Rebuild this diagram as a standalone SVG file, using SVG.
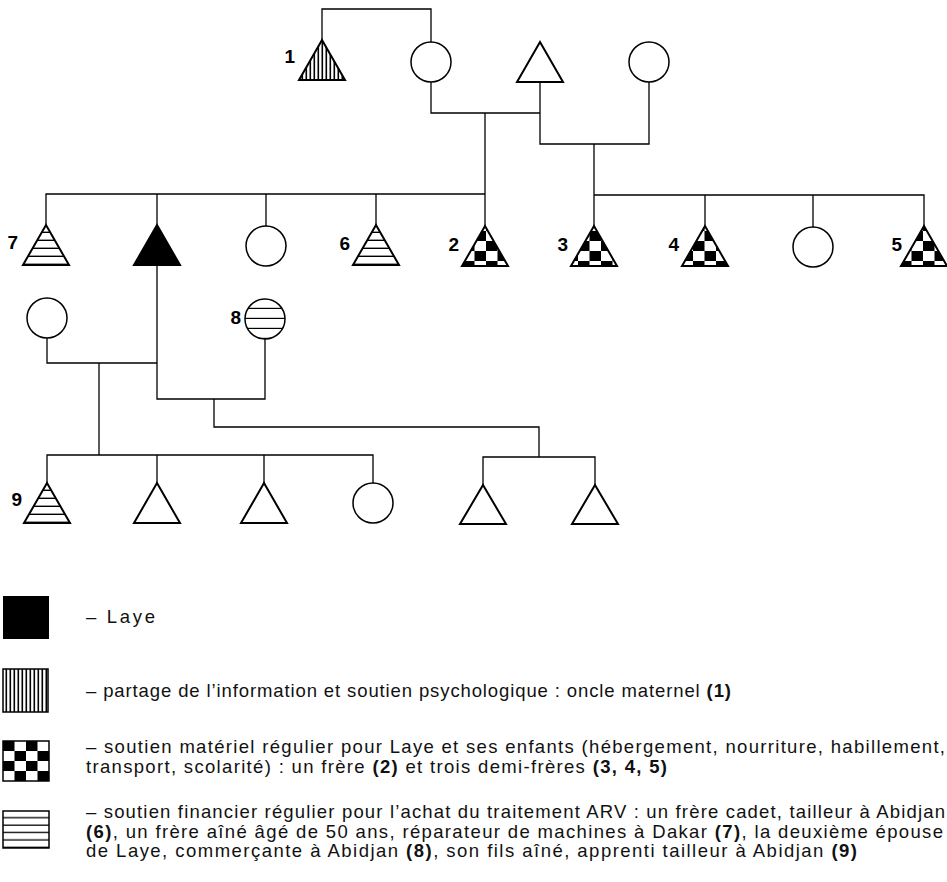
<svg xmlns="http://www.w3.org/2000/svg" width="947" height="882" viewBox="0 0 947 882">
<style>
.tri{stroke:#000;stroke-width:2;fill:#fff;stroke-linejoin:miter}
.cir{stroke:#000;stroke-width:1.5;fill:#fff}
.con{stroke:#000;stroke-width:1.3;fill:none}
.lab{font-family:"Liberation Sans",Arial,sans-serif;font-weight:bold;font-size:19px;text-anchor:end;fill:#000}
.leg{font-family:"Liberation Sans",Arial,sans-serif;font-size:18.5px;fill:#111}
.b{font-weight:bold}
.vs{fill:url(#vstripe)}
.hs{fill:url(#hstripe)}
.ck{fill:url(#checker)}
.full{fill:#000}
</style>
<defs>
<pattern id="vstripe" patternUnits="userSpaceOnUse" width="4" height="4">
<rect x="0" y="0" width="4" height="4" fill="#fff"/>
<rect x="1.5" y="0" width="1.6" height="4" fill="#000"/>
</pattern>
<pattern id="hstripe" patternUnits="objectBoundingBox" width="1" height="0.2" patternContentUnits="objectBoundingBox">
<rect x="0" y="0" width="1" height="0.2" fill="#fff"/>
<rect x="0" y="0.165" width="1" height="0.035" fill="#000"/>
</pattern>
<pattern id="hstripe4" patternUnits="objectBoundingBox" width="1" height="0.25" patternContentUnits="objectBoundingBox">
<rect x="0" y="0" width="1" height="0.25" fill="#fff"/>
<rect x="0" y="0.22" width="1" height="0.035" fill="#000"/>
</pattern>
<pattern id="checker" patternUnits="userSpaceOnUse" x="3" y="1" width="23" height="20">
<rect x="0" y="0" width="23" height="20" fill="#fff"/>
<rect x="0" y="0" width="11.5" height="10" fill="#000"/>
<rect x="11.5" y="10" width="11.5" height="10" fill="#000"/>
</pattern>
</defs>

<g id="connectors">
<path class="con" d="M322,40 V9 H431 V42"/>
<path class="con" d="M431,82 V113 H540"/>
<path class="con" d="M540,82 V144 H649 V82"/>
<path class="con" d="M485,113 V226"/>
<path class="con" d="M594,144 V226"/>
<path class="con" d="M46,225 V194 H485"/>
<path class="con" d="M157,194 V225"/>
<path class="con" d="M266,194 V226"/>
<path class="con" d="M376,194 V225"/>
<path class="con" d="M594,195 H924 V226"/>
<path class="con" d="M705,195 V226"/>
<path class="con" d="M813,195 V227"/>
<path class="con" d="M157,265 V399 H265 V339"/>
<path class="con" d="M47,338 V363 H157"/>
<path class="con" d="M99,363 V455"/>
<path class="con" d="M47,483 V455 H373 V483"/>
<path class="con" d="M157,455 V483"/>
<path class="con" d="M264,455 V483"/>
<path class="con" d="M214,399 V427 H539 V457"/>
<path class="con" d="M483,485 V457 H595 V485"/>
</g>

<g id="n1"><path class="tri vs" d="M322,40 L345,80 L299,80 Z"/><text class="lab" x="295" y="63">1</text></g>
<g id="grandmother"><circle class="cir" cx="431" cy="62" r="20"/></g>
<g id="grandfather"><path class="tri" d="M540,42 L563,82 L517,82 Z"/></g>
<g id="grandmother2"><circle class="cir" cx="649" cy="62" r="20"/></g>

<g id="n7"><path class="tri hs" d="M46,225 L69,265 L23,265 Z"/><text class="lab" x="18" y="249">7</text></g>
<g id="laye"><path class="tri full" d="M157,225 L180,265 L134,265 Z"/></g>
<g id="sister"><circle class="cir" cx="266" cy="246" r="20"/></g>
<g id="n6"><path class="tri hs" d="M376,225 L399,265 L353,265 Z"/><text class="lab" x="350" y="250">6</text></g>
<g id="n2"><path class="tri ck" d="M485,226 L508,266 L462,266 Z"/><text class="lab" x="459" y="251">2</text></g>
<g id="n3"><path class="tri ck" d="M594,226 L617,266 L571,266 Z"/><text class="lab" x="568" y="251">3</text></g>
<g id="n4"><path class="tri ck" d="M705,226 L728,266 L682,266 Z"/><text class="lab" x="679" y="251">4</text></g>
<g id="halfsister"><circle class="cir" cx="813" cy="247" r="20"/></g>
<g id="n5"><path class="tri ck" d="M924,226 L947,266 L901,266 Z"/><text class="lab" x="902" y="251">5</text></g>

<g id="wife1"><circle class="cir" cx="47" cy="318" r="20"/></g>
<g id="n8"><circle class="cir" cx="265" cy="319" r="20" style="fill:url(#hstripe4)"/><text class="lab" x="241" y="324">8</text></g>

<g id="n9"><path class="tri hs" d="M47,483 L70,523 L24,523 Z"/><text class="lab" x="22" y="506">9</text></g>
<g id="son2"><path class="tri" d="M157,483 L180,523 L134,523 Z"/></g>
<g id="son3"><path class="tri" d="M264,483 L287,523 L241,523 Z"/></g>
<g id="daughter"><circle class="cir" cx="373" cy="503" r="20"/></g>
<g id="son4"><path class="tri" d="M483,485 L506,524 L460,524 Z"/></g>
<g id="son5"><path class="tri" d="M595,485 L618,524 L572,524 Z"/></g>

<g id="legend">
<rect x="3" y="596" width="46" height="43" fill="#000"/>
<text class="leg" x="86" y="623" textLength="69" lengthAdjust="spacing">– Laye</text>
<rect x="3" y="669" width="45" height="43" fill="url(#vstripe)" stroke="#000" stroke-width="1.5"/>
<text class="leg" x="86" y="697" textLength="645" lengthAdjust="spacing">– partage de l’information et soutien psychologique : oncle maternel <tspan class="b">(1)</tspan></text>
<rect x="3" y="741" width="46" height="40" fill="url(#checker)" stroke="#000" stroke-width="1.5"/>
<text class="leg" x="86" y="753" textLength="859" lengthAdjust="spacing">– soutien matériel régulier pour Laye et ses enfants (hébergement, nourriture, habillement,</text>
<text class="leg" x="86" y="773" textLength="581" lengthAdjust="spacing">transport, scolarité) : un frère <tspan class="b">(2)</tspan> et trois demi-frères <tspan class="b">(3, 4, 5)</tspan></text>
<rect x="3" y="811" width="46" height="37" fill="url(#hstripe)" stroke="#000" stroke-width="1.5"/>
<text class="leg" x="86" y="818" textLength="859" lengthAdjust="spacing">– soutien financier régulier pour l’achat du traitement ARV : un frère cadet, tailleur à Abidjan</text>
<text class="leg" x="86" y="838" textLength="857" lengthAdjust="spacing"><tspan class="b">(6)</tspan>, un frère aîné âgé de 50 ans, réparateur de machines à Dakar <tspan class="b">(7)</tspan>, la deuxième épouse</text>
<text class="leg" x="86" y="857" textLength="771" lengthAdjust="spacing">de Laye, commerçante à Abidjan <tspan class="b">(8)</tspan>, son fils aîné, apprenti tailleur à Abidjan <tspan class="b">(9)</tspan></text>
</g>
</svg>
